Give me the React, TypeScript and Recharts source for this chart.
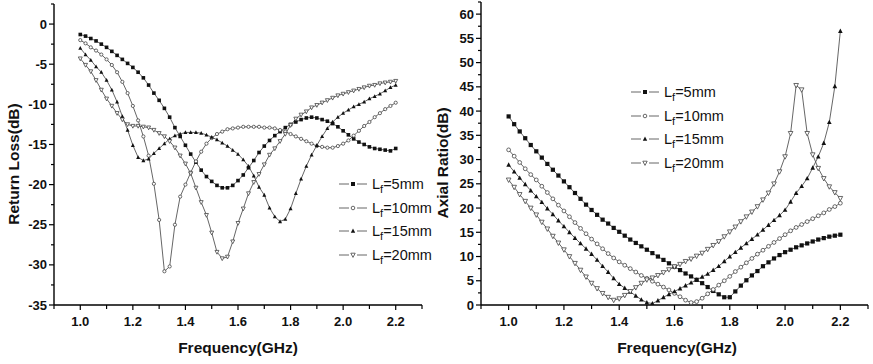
import React from 'react';
import { LineChart, Line, XAxis, YAxis, Legend } from 'recharts';

const FONT = '"Liberation Sans", Arial, sans-serif';

// frequency points (GHz)
const FREQ = [
  1.0, 1.02, 1.04, 1.06, 1.08, 1.1, 1.12, 1.14, 1.16, 1.18,
  1.2, 1.22, 1.24, 1.26, 1.28, 1.3, 1.32, 1.34, 1.36, 1.38,
  1.4, 1.42, 1.44, 1.46, 1.48, 1.5, 1.52, 1.54, 1.56, 1.58,
  1.6, 1.62, 1.64, 1.66, 1.68, 1.7, 1.72, 1.74, 1.76, 1.78,
  1.8, 1.82, 1.84, 1.86, 1.88, 1.9, 1.92, 1.94, 1.96, 1.98,
  2.0, 2.02, 2.04, 2.06, 2.08, 2.1, 2.12, 2.14, 2.16, 2.18,
  2.2,
];

// return loss (dB)
const RL_5 = [
  -1.3, -1.5, -1.8, -2.1, -2.5, -2.9, -3.4, -3.9, -4.4, -4.9,
  -5.4, -6.0, -6.7, -7.6, -8.6, -9.5, -10.5, -11.6, -12.9, -14.0,
  -15.1, -16.2, -17.2, -18.2, -19.0, -19.6, -20.1, -20.4, -20.4, -20.1,
  -19.5, -18.8, -17.9, -17.0, -16.0, -15.2, -14.5, -13.9, -13.4, -12.9,
  -12.5, -12.2, -11.9, -11.7, -11.6, -11.7, -11.9, -12.1, -12.4, -12.8,
  -13.3, -13.8, -14.3, -14.7, -15.0, -15.3, -15.5, -15.6, -15.7, -15.8,
  -15.5,
];
const RL_10 = [
  -2.0, -2.4, -2.9, -3.3, -3.8, -4.4, -5.1, -6.0, -7.2, -8.6,
  -10.2, -12.0, -14.0, -16.4, -19.9, -24.4, -30.8, -30.2, -25.0, -21.5,
  -20.0, -18.5, -17.1, -15.9, -14.9, -14.2, -13.7, -13.4, -13.1, -13.0,
  -12.9, -12.8, -12.8, -12.8, -12.8, -12.9, -12.9, -13.0, -13.2, -13.4,
  -13.7, -14.0, -14.3, -14.6, -14.9, -15.2, -15.3, -15.4, -15.4, -15.2,
  -14.9, -14.5, -13.9, -13.3, -12.7, -12.2, -11.6, -11.1, -10.6, -10.2,
  -9.8,
];
const RL_15 = [
  -3.0, -3.8, -4.5, -5.3, -6.0, -7.0, -8.2, -9.7, -11.5, -13.2,
  -15.1, -16.6, -17.0, -16.8, -16.1, -15.5, -14.9, -14.3, -13.9, -13.7,
  -13.5, -13.5, -13.5, -13.6, -13.8, -14.1, -14.4, -14.8, -15.2, -15.7,
  -16.2, -16.9, -17.7, -18.9, -20.3, -21.3, -22.9, -24.0, -24.6, -24.3,
  -23.0, -21.1, -19.3, -17.7, -16.3, -15.1, -14.0, -13.0, -12.2, -11.6,
  -11.1, -10.7, -10.3, -10.0, -9.7, -9.3, -9.0, -8.7, -8.3, -7.9,
  -7.6,
];
const RL_20 = [
  -4.3, -5.1, -5.9, -7.0, -8.2, -9.3, -10.2, -11.1, -11.9, -12.5,
  -12.7, -12.7, -12.8, -12.9, -13.2, -13.6, -14.0, -14.6, -15.4, -16.4,
  -17.4, -18.6, -20.4, -22.2, -23.8, -26.0, -28.4, -29.2, -29.0, -27.1,
  -24.8, -23.0, -21.1, -19.7, -18.7, -17.5, -16.3, -15.5, -14.6, -13.7,
  -12.6, -11.8, -11.3, -10.9, -10.4, -10.1, -9.8, -9.5, -9.2, -8.9,
  -8.7, -8.5, -8.3, -8.1, -7.9, -7.7, -7.6, -7.4, -7.3, -7.2,
  -7.1,
];

// axial ratio (dB)
const AR_5 = [
  38.9, 37.3, 35.8, 34.4, 33.0, 31.7, 30.4, 29.1, 27.9, 26.7,
  25.5, 24.3, 23.1, 21.9, 20.7, 19.6, 18.6, 17.6, 16.8, 15.9,
  15.1, 14.3, 13.5, 12.8, 12.1, 11.4, 10.7, 10.0, 9.3, 8.6,
  7.9, 7.2, 6.5, 5.9, 5.2, 4.5, 3.7, 2.9, 2.2, 1.6,
  1.6, 2.8, 4.0, 5.1, 6.1, 7.0, 8.0, 8.8, 9.6, 10.3,
  10.9, 11.4, 11.9, 12.3, 12.7, 13.1, 13.5, 13.8, 14.1, 14.3,
  14.5,
];
const AR_10 = [
  32.0, 30.7, 29.4, 28.1, 26.9, 25.8, 24.5, 23.2, 21.9, 20.6,
  19.4, 18.2, 17.0, 15.8, 14.7, 13.6, 12.6, 11.6, 10.6, 9.7,
  8.9, 8.2, 7.5, 6.8, 6.1, 5.5, 4.9, 4.3, 3.7, 3.1,
  2.4, 1.7, 1.0, 0.5, 0.7, 1.4, 2.3, 3.2, 4.1, 5.0,
  5.9, 6.9, 7.8, 8.7, 9.6, 10.5, 11.3, 12.1, 12.9, 13.7,
  14.5, 15.3, 16.0, 16.6, 17.2, 17.8, 18.4, 19.0, 19.7, 20.3,
  21.0,
];
const AR_15 = [
  28.9, 27.5, 26.2, 24.9, 23.6, 22.4, 21.2, 19.9, 18.7, 17.4,
  16.2, 15.0, 13.8, 12.7, 11.6, 10.5, 9.3, 8.0, 6.8, 5.5,
  4.3, 3.5, 2.7, 1.9, 1.1, 0.5, 0.3, 0.9, 1.6, 2.2,
  2.8, 3.4, 4.0, 4.6, 5.2, 5.8, 6.4, 7.2, 8.0, 9.0,
  10.0, 10.9, 11.8, 12.7, 13.6, 14.5, 15.5, 16.5, 17.5, 18.5,
  19.6, 21.3, 23.1, 24.5, 26.1, 28.3, 30.6, 33.4, 37.7, 45.1,
  56.5,
];
const AR_20 = [
  25.8, 24.3, 22.8, 21.4, 20.0, 18.6, 17.1, 15.7, 14.2, 12.8,
  11.4, 10.0, 8.6, 7.2, 5.8, 4.5, 3.4, 2.4, 1.6, 1.0,
  1.3, 2.0, 2.8, 3.6, 4.5, 5.2, 5.6, 6.1, 6.7, 7.3,
  7.9, 8.4, 9.0, 9.5, 10.1, 10.7, 11.5, 12.3, 13.1, 14.1,
  15.1, 16.1, 17.2, 18.2, 19.2, 20.3, 21.7, 23.1, 25.0, 27.5,
  30.6, 35.4, 45.3, 44.4, 35.4, 31.0, 28.2, 26.1, 24.4, 23.2,
  22.0,
];

const LEGEND_NAMES = ['5mm', '10mm', '15mm', '20mm'];
const SHAPES = ['square', 'circle', 'triUp', 'triDown'];
const KEYS = ['s5', 's10', 's15', 's20'];

const X_MAJOR = [1.0, 1.2, 1.4, 1.6, 1.8, 2.0, 2.2];
const X_MINOR = [0.9, 1.1, 1.3, 1.5, 1.7, 1.9, 2.1, 2.3];
const RL_MAJOR = [-35, -30, -25, -20, -15, -10, -5, 0];
const RL_MINOR = [-32.5, -27.5, -22.5, -17.5, -12.5, -7.5, -2.5, 2.5];
const AR_MAJOR = [0, 5, 10, 15, 20, 25, 30, 35, 40, 45, 50, 55, 60];
const AR_MINOR = [2.5, 7.5, 12.5, 17.5, 22.5, 27.5, 32.5, 37.5, 42.5, 47.5, 52.5, 57.5, 62.5];

const rlData = FREQ.map((f, i) => ({ f, s5: RL_5[i], s10: RL_10[i], s15: RL_15[i], s20: RL_20[i] }));
const arData = FREQ.map((f, i) => ({ f, s5: AR_5[i], s10: AR_10[i], s15: AR_15[i], s20: AR_20[i] }));

const isIn = (arr: number[], v: number) => arr.some(m => Math.abs(m - v) < 1e-6);

const Marker = ({ cx, cy, shape, size }: any) => {
  if (cx == null || cy == null) return null;
  const s = size;
  if (shape === 'square')
    return <rect x={cx - s / 2} y={cy - s / 2} width={s} height={s} fill="#111" />;
  if (shape === 'circle')
    return <circle cx={cx} cy={cy} r={s / 2 - 0.2} fill="#fff" stroke="#444" strokeWidth={0.8} />;
  if (shape === 'triUp')
    return <polygon points={`${cx},${cy - s * 0.6} ${cx - s * 0.55},${cy + s * 0.45} ${cx + s * 0.55},${cy + s * 0.45}`} fill="#111" />;
  return (
    <polygon
      points={`${cx},${cy + s * 0.6} ${cx - s * 0.55},${cy - s * 0.45} ${cx + s * 0.55},${cy - s * 0.45}`}
      fill="#fff"
      stroke="#444"
      strokeWidth={0.8}
    />
  );
};

const makeYTick = (major: number[]) => (props: any) => {
  const { x, y, payload } = props;
  const big = isIn(major, payload.value);
  return (
    <g>
      <line x1={x} x2={x - (big ? 5 : 3)} y1={y} y2={y} stroke="#000" strokeWidth={1.2} />
      {big && (
        <text x={x - 7} y={y + 4.5} textAnchor="end" fontSize={13} fontWeight="bold" fontFamily={FONT} fill="#111">
          {payload.value}
        </text>
      )}
    </g>
  );
};

const XTick = (props: any) => {
  const { x, y, payload } = props;
  const big = isIn(X_MAJOR, payload.value);
  return (
    <g>
      <line x1={x} x2={x} y1={y} y2={y + (big ? 5 : 4)} stroke="#000" strokeWidth={1.2} />
      {big && (
        <text x={x} y={y + 21} textAnchor="middle" fontSize={13} fontWeight="bold" fontFamily={FONT} fill="#111">
          {payload.value.toFixed(1)}
        </text>
      )}
    </g>
  );
};

// legend rows drawn in series order (5, 10, 15, 20 mm)
const LegendBox = () => (
  <div style={{ fontFamily: FONT }}>
    {KEYS.map((k, idx) => (
      <div key={k} style={{ display: 'flex', alignItems: 'center', height: 23.8 }}>
        <svg width={33} height={20} style={{ display: 'block' }}>
          <line x1={0} x2={10} y1={10} y2={10} stroke="#666" strokeWidth={1} />
          <line x1={18} x2={28} y1={10} y2={10} stroke="#666" strokeWidth={1} />
          <Marker cx={14} cy={10} shape={SHAPES[idx]} size={4} />
        </svg>
        <span style={{ fontSize: 14.5, color: '#111', lineHeight: '14px' }}>
          L<sub style={{ fontSize: 11, verticalAlign: '-4px', lineHeight: 0 }}>f</sub>={LEGEND_NAMES[idx]}
        </span>
      </div>
    ))}
  </div>
);

const renderSeries = (size: number) =>
  KEYS.map((k, i) => (
    <Line
      key={k}
      dataKey={k}
      name={LEGEND_NAMES[i]}
      type="linear"
      stroke="#555"
      strokeWidth={0.9}
      isAnimationActive={false}
      dot={(p: any) => <Marker key={`${k}-${p.index}`} cx={p.cx} cy={p.cy} shape={SHAPES[i]} size={size} />}
      activeDot={false}
    />
  ));

const titleStyle: React.CSSProperties = {
  position: 'absolute',
  fontFamily: FONT,
  fontWeight: 'bold',
  fontSize: 15.5,
  color: '#111',
  whiteSpace: 'nowrap',
  transform: 'translate(-50%, -50%)',
};

export default function App() {
  const xTicks = [...X_MAJOR, ...X_MINOR].sort((a, b) => a - b);
  const rlTicks = [...RL_MAJOR, ...RL_MINOR].sort((a, b) => a - b);
  const arTicks = [...AR_MAJOR, ...AR_MINOR].sort((a, b) => a - b);
  return (
    <div style={{ position: 'absolute', left: 0, top: 0, width: 873, height: 364, background: '#fff' }}>
      <div style={{ position: 'absolute', left: 0, top: 0 }}>
        <LineChart width={433} height={364} data={rlData} margin={{ top: 4, right: 11, bottom: 0, left: 0 }}>
          <XAxis
            dataKey="f"
            type="number"
            domain={[0.9, 2.3]}
            ticks={xTicks}
            interval={0}
            height={59}
            tickSize={0}
            tickMargin={0}
            tickLine={false}
            tick={XTick}
            axisLine={{ stroke: '#000', strokeWidth: 1.4 }}
          />
          <YAxis
            type="number"
            domain={[-35, 2.5]}
            ticks={rlTicks}
            interval={0}
            width={54}
            tickSize={0}
            tickMargin={0}
            tickLine={false}
            tick={makeYTick(RL_MAJOR)}
            axisLine={{ stroke: '#000', strokeWidth: 1.4 }}
            allowDataOverflow
          />
          <Legend
            layout="vertical"
            align="center"
            verticalAlign="middle"
            content={() => <LegendBox />}
            wrapperStyle={{ left: 339, top: 172, width: 100 }}
          />
          {renderSeries(3.6)}
        </LineChart>
        <div style={{ ...titleStyle, left: 14, top: 164, transform: 'translate(-50%, -50%) rotate(-90deg)' }}>
          Return Loss(dB)
        </div>
        <div style={{ ...titleStyle, left: 238, top: 348 }}>Frequency(GHz)</div>
      </div>
      <div style={{ position: 'absolute', left: 433, top: 0 }}>
        <LineChart width={440} height={364} data={arData} margin={{ top: 2, right: 5, bottom: 0, left: 0 }}>
          <XAxis
            dataKey="f"
            type="number"
            domain={[0.9, 2.3]}
            ticks={xTicks}
            interval={0}
            height={59}
            tickSize={0}
            tickMargin={0}
            tickLine={false}
            tick={XTick}
            axisLine={{ stroke: '#000', strokeWidth: 1.4 }}
          />
          <YAxis
            type="number"
            domain={[0, 62.5]}
            ticks={arTicks}
            interval={0}
            width={48}
            tickSize={0}
            tickMargin={0}
            tickLine={false}
            tick={makeYTick(AR_MAJOR)}
            axisLine={{ stroke: '#000', strokeWidth: 1.4 }}
            allowDataOverflow
          />
          <Legend
            layout="vertical"
            align="center"
            verticalAlign="middle"
            content={() => <LegendBox />}
            wrapperStyle={{ left: 198, top: 80, width: 110 }}
          />
          {renderSeries(4.2)}
        </LineChart>
        <div style={{ ...titleStyle, left: 10, top: 163, transform: 'translate(-50%, -50%) rotate(-90deg)' }}>
          Axial Ratio(dB)
        </div>
        <div style={{ ...titleStyle, left: 244, top: 348 }}>Frequency(GHz)</div>
      </div>
    </div>
  );
}
